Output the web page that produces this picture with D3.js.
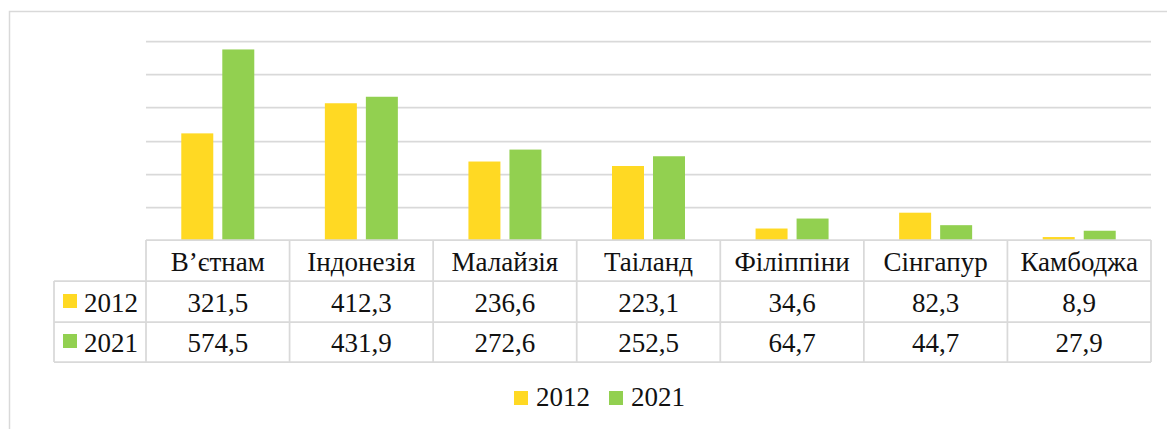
<!DOCTYPE html>
<html><head><meta charset="utf-8">
<script src="https://cdn.jsdelivr.net/npm/d3@7"></script>
<style>html,body{margin:0;padding:0;background:#fff;overflow:hidden}</style>
</head><body>
<svg id="c" width="1167" height="429"></svg>
<script>
const categories = ["В’єтнам","Індонезія","Малайзія","Таіланд","Філіппіни","Сінгапур","Камбоджа"];
const seriesNames = ["2012","2021"];
const values2012 = [321.5,412.3,236.6,223.1,34.6,82.3,8.9];
const values2021 = [574.5,431.9,272.6,252.5,64.7,44.7,27.9];
const yTicks = [100,200,300,400,500,600];
const colors = ["#FFD923","#92D050"];

(function(){
const seriesValues = [values2012, values2021];
const fmt = v => d3.format(".1f")(v).replace(".", ",");
const svg = d3.select("#c");
const grid = "#d9d9d9";
const font = "'Liberation Serif','Times New Roman',serif";

// outer chart border (cropped at right/bottom)
svg.append("rect").attr("x",9.5).attr("y",11.5).attr("width",1200).attr("height",500)
  .attr("fill","none").attr("stroke",grid).attr("stroke-width",1.5);

const pLeft = 146, pRight = 1151, base = 240, pTop = 41;
const x0 = d3.scaleBand().domain(categories).range([pLeft,pRight]).padding(0);
const y = d3.scaleLinear().domain([0,600]).range([base,pTop]);
const bw = x0.bandwidth();
const x1 = d3.scaleBand().domain(seriesNames).range([bw/2-36.5, bw/2+36.5]).paddingInner(0.22).paddingOuter(0);

// gridlines
svg.append("g").selectAll("line").data(yTicks).join("line")
  .attr("x1",pLeft).attr("x2",pRight).attr("y1",d=>Math.round(y(d))+0.5).attr("y2",d=>Math.round(y(d))+0.5)
  .attr("stroke",grid).attr("stroke-width",1.75);

// bars
seriesNames.forEach((s,si)=>{
  svg.append("g").selectAll("rect").data(categories).join("rect")
    .attr("x",(c)=>x0(c)+x1(s))
    .attr("width",x1.bandwidth())
    .attr("y",(c,i)=>y(seriesValues[si][i]))
    .attr("height",(c,i)=>base-y(seriesValues[si][i]))
    .attr("fill",colors[si]);
});

// data table
const rowH = [240, 281, 322, 362];
const legLeft = 54;
const tg = svg.append("g").attr("stroke",grid).attr("stroke-width",1.75).attr("fill","none");
tg.append("line").attr("x1",pLeft).attr("x2",pRight).attr("y1",rowH[0]).attr("y2",rowH[0]);
[1,2,3].forEach(k=>tg.append("line").attr("x1",legLeft).attr("x2",pRight).attr("y1",rowH[k]).attr("y2",rowH[k]));
categories.forEach(c=>tg.append("line").attr("x1",x0(c)).attr("x2",x0(c)).attr("y1",rowH[0]).attr("y2",rowH[3]));
tg.append("line").attr("x1",pRight).attr("x2",pRight).attr("y1",rowH[0]).attr("y2",rowH[3]);
tg.append("line").attr("x1",legLeft).attr("x2",legLeft).attr("y1",rowH[1]).attr("y2",rowH[3]);

const fs = 27;
const txt = (g) => g.style("font-family",font).attr("font-size",fs).attr("fill","#111");
svg.append("g").selectAll("text").data(categories).join("text")
  .attr("x",c=>x0(c)+bw/2).attr("y",271)
  .attr("text-anchor","middle").call(txt)
  .text(c=>c);
seriesNames.forEach((s,si)=>{
  const yb = si===0 ? 312 : 352;
  svg.append("g").selectAll("text").data(categories).join("text")
    .attr("x",c=>x0(c)+bw/2).attr("y",yb)
    .attr("text-anchor","middle").call(txt)
    .text((c,i)=>fmt(seriesValues[si][i]));
  svg.append("rect").attr("x",63).attr("y",yb-18).attr("width",14).attr("height",14).attr("fill",colors[si]);
  svg.append("text").attr("x",84).attr("y",yb).call(txt).text(s);
});

// legend
const legX = [514, 609];
seriesNames.forEach((s,si)=>{
  svg.append("rect").attr("x",legX[si]).attr("y",391).attr("width",14).attr("height",14).attr("fill",colors[si]);
  svg.append("text").attr("x",legX[si]+22).attr("y",406).call(txt).text(s);
});
})();
</script>
</body></html>
